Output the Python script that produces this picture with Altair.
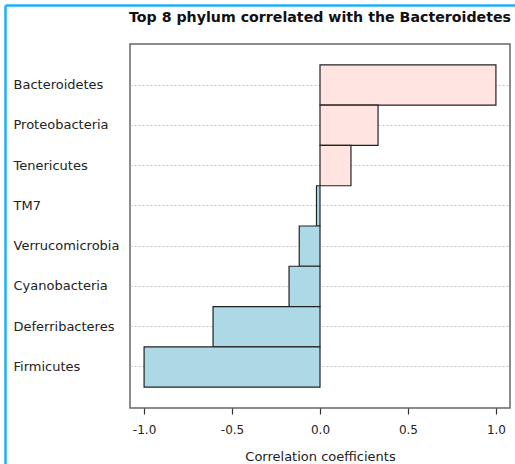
import altair as alt
import pandas as pd

# Phyla ranked by their correlation with Bacteroidetes
phyla = ["Bacteroidetes", "Proteobacteria", "Tenericutes", "TM7",
         "Verrucomicrobia", "Cyanobacteria", "Deferribacteres", "Firmicutes"]
coefficients = [1.0, 0.33, 0.176, -0.02, -0.118, -0.176, -0.608, -1.0]
x_ticks = [-1.0, -0.5, 0.0, 0.5, 1.0]

df = pd.DataFrame({"phylum": phyla, "coef": coefficients})
df["sign"] = ["pos" if v >= 0 else "neg" for v in coefficients]

W, H = 380, 364
PAD_L, PAD_T = 130, 44

bars = alt.Chart(df).mark_bar(stroke="#222222", strokeWidth=1.2).encode(
    y=alt.Y("phylum:N", sort=phyla,
            scale=alt.Scale(paddingInner=0, paddingOuter=0.52),
            axis=alt.Axis(title=None, ticks=False, tickSize=0, domain=False,
                          labelAlign="left", labelPadding=117,
                          labelFont="DejaVu Sans", labelFontSize=13,
                          labelColor="#222222",
                          grid=True, bandPosition=0.5, gridDash=[2, 2],
                          gridColor="#c4c4c4", gridWidth=1)),
    x=alt.X("coef:Q",
            scale=alt.Scale(domain=[-1.08, 1.08], nice=False, zero=False),
            axis=alt.Axis(title="Correlation coefficients", values=x_ticks,
                          labelExpr="replace(format(datum.value, '.1f'), '\u2212', '-')",
                          grid=False, domain=False,
                          tickSize=6, tickColor="#333333", tickWidth=1.2,
                          labelPadding=10, labelFont="DejaVu Sans",
                          labelFontSize=12, labelColor="#222222",
                          titleFont="DejaVu Sans", titleFontSize=13,
                          titleFontWeight="normal", titleColor="#222222",
                          titlePadding=15)),
    color=alt.Color("sign:N",
                    scale=alt.Scale(domain=["pos", "neg"],
                                    range=["#ffe4e1", "#add8e6"]),
                    legend=None),
)

# Outer blue frame (left and top edges)
frame = alt.Data(values=[{}])
left_edge = alt.Chart(frame).mark_rule(color="#1eb1f3", strokeWidth=2.5).encode(
    x=alt.value(5.5 - PAD_L), y=alt.value(5.5 - PAD_T), y2=alt.value(464 - PAD_T))
top_edge = alt.Chart(frame).mark_rule(color="#1eb1f3", strokeWidth=2.5).encode(
    x=alt.value(5.5 - PAD_L), x2=alt.value(515 - PAD_L), y=alt.value(5.5 - PAD_T))

chart = alt.layer(bars, left_edge, top_edge).properties(
    width=W, height=H,
    title=alt.TitleParams("Top 8 phylum correlated with the Bacteroidetes",
                          font="DejaVu Sans", fontSize=14.2, fontWeight="bold",
                          color="#111111", anchor="middle", frame="group",
                          offset=-21),
    autosize=alt.AutoSizeParams(type="none"),
    padding={"left": PAD_L, "top": PAD_T, "right": 5, "bottom": 56},
    background="white",
).configure_view(stroke="#666666", strokeWidth=1.5)

chart.save("out.html", embed_options={"renderer": "svg", "actions": False})
